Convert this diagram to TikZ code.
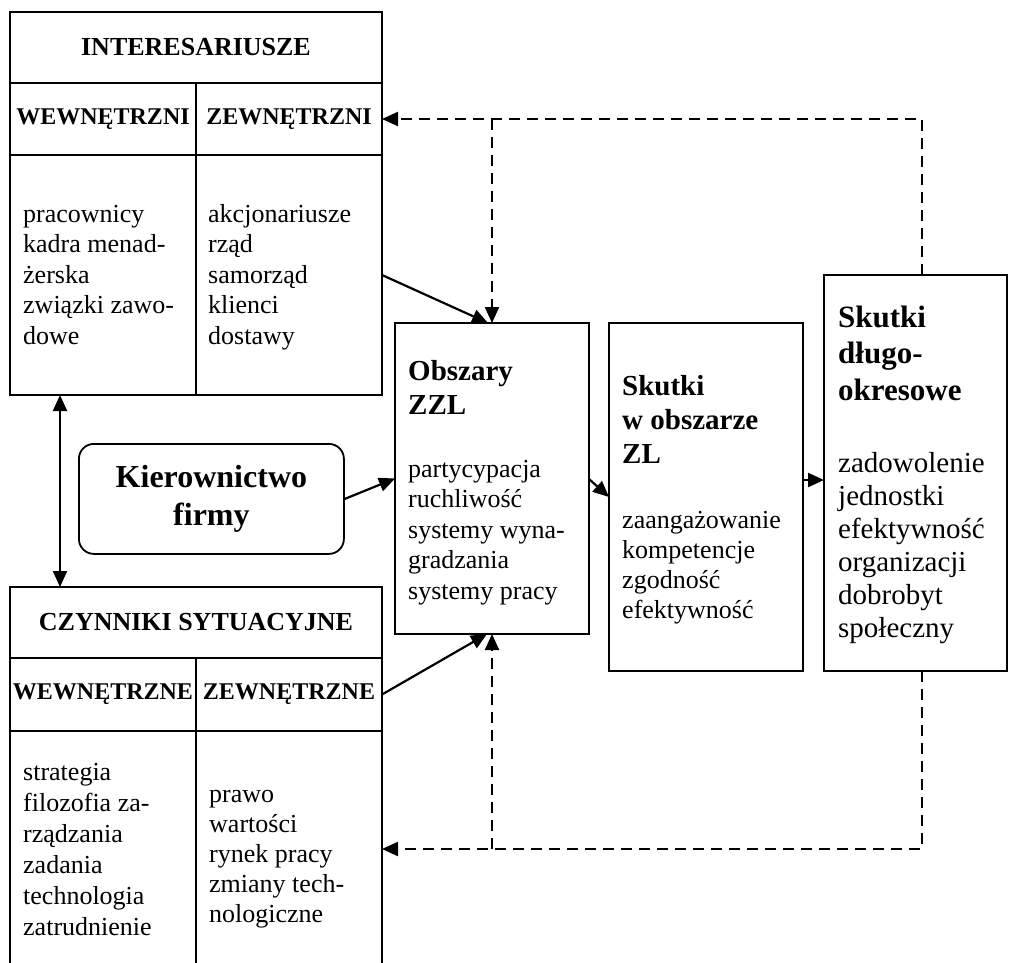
\documentclass[tikz,border=0pt]{standalone}
\usepackage{fontspec}
\setmainfont{Liberation Serif}
\usetikzlibrary{arrows.meta}
\begin{document}
\begin{tikzpicture}[x=1pt,y=-1pt,
  >={Triangle[length=16pt,width=14pt]},
  cell/.style={draw,line width=1.8pt,anchor=north west,inner sep=0pt,outer sep=0pt},
  body/.style={anchor=base west,inner sep=0pt,align=left,font=\fontsize{26}{30.5}\selectfont},
  thead/.style={font=\bfseries\fontsize{26}{30}\selectfont},
  shead/.style={font=\bfseries\fontsize{24}{28}\selectfont},
  bhead/.style={anchor=base west,inner sep=0pt,align=left,font=\bfseries\fontsize{29}{34}\selectfont},
  arr/.style={line width=2.2pt,->},
  darr/.style={line width=2.2pt,->,dash pattern=on 11pt off 7pt}
]
\useasboundingbox (0,0) rectangle (1009,962);
\clip (0,0) rectangle (1009,962);

% INTERESARIUSZE table
\node[cell,thead,minimum width=372pt,minimum height=71pt] (ih) at (10,12) {INTERESARIUSZE};
\node[cell,shead,minimum width=186pt,minimum height=72pt] (is1) at (10,83) {WEWNĘTRZNI};
\node[cell,shead,minimum width=186pt,minimum height=72pt] (is2) at (196,83) {ZEWNĘTRZNI};
\node[cell,minimum width=186pt,minimum height=240pt] (ib1) at (10,155) {};
\node[cell,minimum width=186pt,minimum height=240pt] (ib2) at (196,155) {};
\node[body] (ibt1) at (23,344) {pracownicy\\kadra menad-\\żerska\\związki zawo-\\dowe};
\node[body] (ibt2) at (208,344) {akcjonariusze\\rząd\\samorząd\\klienci\\dostawy};

% CZYNNIKI table
\node[cell,thead,minimum width=372pt,minimum height=71pt] (ch) at (10,587) {CZYNNIKI SYTUACYJNE};
\node[cell,shead,minimum width=186pt,minimum height=73pt] (cs1) at (10,658) {WEWNĘTRZNE};
\node[cell,shead,minimum width=186pt,minimum height=73pt] (cs2) at (196,658) {ZEWNĘTRZNE};
\node[cell,minimum width=186pt,minimum height=260pt] (cb1) at (10,731) {};
\node[cell,minimum width=186pt,minimum height=260pt] (cb2) at (196,731) {};
\node[body,font=\fontsize{26}{31}\selectfont] (cbt1) at (23,935) {strategia\\filozofia za-\\rządzania\\zadania\\technologia\\zatrudnienie};
\node[body,font=\fontsize{26}{30}\selectfont] (cbt2) at (209,922) {prawo\\wartości\\rynek pracy\\zmiany tech-\\nologiczne};

% Kierownictwo
\node[draw,line width=1.8pt,rounded corners=15pt,anchor=north west,inner sep=0pt,
  minimum width=265pt,minimum height=110pt,align=center,
  font=\bfseries\fontsize{32}{38}\selectfont] (kf) at (78,443) {Kierownictwo\\firmy};

% centre boxes
\node[cell,minimum width=194pt,minimum height=311pt] (ob) at (395,323) {};
\node[cell,minimum width=194pt,minimum height=348pt] (zl) at (609,323) {};
\node[cell,minimum width=183pt,minimum height=396pt] (dl) at (824,275) {};

\node[bhead] (obh) at (408,414) {Obszary\\ZZL};
\node[body] (obt) at (408,599) {partycypacja\\ruchliwość\\systemy wyna-\\gradzania\\systemy pracy};
\node[bhead] (zlh) at (622,463) {Skutki\\w obszarze\\ZL};
\node[body,font=\fontsize{26}{30}\selectfont] (zlt) at (622,618) {zaangażowanie\\kompetencje\\zgodność\\efektywność};
\node[bhead,font=\bfseries\fontsize{31}{36.5}\selectfont] (dlh) at (838,400) {Skutki\\długo-\\okresowe};
\node[body,font=\fontsize{29}{33}\selectfont] (dlt) at (838,637) {zadowolenie\\jednostki\\efektywność\\organizacji\\dobrobyt\\społeczny};

% connectors
\coordinate (v) at (60,0);
\draw[line width=2.2pt,<->] (ib1.south -| v) -- (ch.north -| v);
\draw[arr] (kf.east) -- (ob.west);
\draw[arr] (ib2.east) -- ([xshift=-4pt]ob.north);
\draw[arr] (cs2.east) -- ([xshift=-5pt]ob.south);
\draw[arr] ([yshift=-0.5pt]ob.east) -- (zl.west);
\draw[arr] ([yshift=17pt]zl.east) -- ([yshift=17pt]zl.east -| dl.west);

\coordinate (t1) at (922,119);
\coordinate (t2) at (492,119);
\draw[darr] (t1 |- dl.north) -- (t1) -- (is2.east);
\draw[darr] (t2) -- (ob.north);

\coordinate (b1) at (922,849);
\coordinate (b2) at (492,849);
\draw[darr] (b1 |- dl.south) -- (b1) -- (b1 -| cb2.east);
\draw[darr] (b2) -- (ob.south);
\end{tikzpicture}
\end{document}
